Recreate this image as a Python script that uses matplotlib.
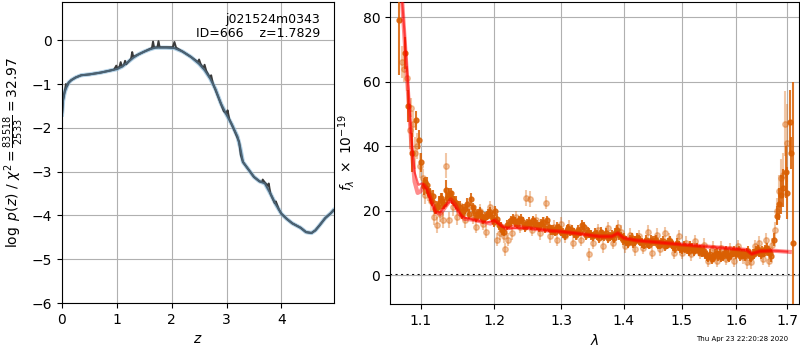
import matplotlib
matplotlib.use('Agg')
import matplotlib.pyplot as plt
from matplotlib.ticker import FixedLocator, FixedFormatter, NullLocator

# redshift posterior (dark line includes the narrow spikes)
z_dark = [0.00, 0.02, 0.04, 0.06, 0.07, 0.09, 0.12, 0.17, 0.25, 0.35, 0.50, 0.70, 0.85, 0.95,
          0.99, 1.01, 1.05, 1.07, 1.09, 1.13, 1.15, 1.17, 1.22, 1.26, 1.28, 1.30, 1.40, 1.50,
          1.60, 1.64, 1.66, 1.68, 1.74, 1.76, 1.78, 1.90, 2.02, 2.05, 2.08, 2.20, 2.35, 2.48,
          2.50, 2.53, 2.58, 2.60, 2.63, 2.70, 2.72, 2.75, 2.85, 2.95, 3.00, 3.02, 3.05, 3.15,
          3.23, 3.26, 3.30, 3.40, 3.50, 3.60, 3.65, 3.66, 3.70, 3.75, 3.77, 3.80, 3.88, 3.90,
          3.95, 4.00, 4.10, 4.20, 4.35, 4.45, 4.55, 4.62, 4.70, 4.80, 4.90, 4.95]
lnp_dark = [-1.70, -1.35, -1.22, -1.10, -1.00, -1.05, -0.97, -0.91, -0.85, -0.80, -0.78, -0.74,
            -0.70, -0.67, -0.58, -0.65, -0.60, -0.50, -0.60, -0.56, -0.47, -0.55, -0.48, -0.42,
            -0.27, -0.38, -0.32, -0.26, -0.20, -0.18, -0.03, -0.17, -0.16, -0.02, -0.16, -0.16,
            -0.16, -0.04, -0.17, -0.26, -0.38, -0.50, -0.44, -0.55, -0.64, -0.56, -0.70, -0.86,
            -0.80, -0.98, -1.30, -1.62, -1.68, -1.60, -1.80, -2.08, -2.32, -2.62, -2.78, -2.95,
            -3.12, -3.22, -3.24, -3.18, -3.25, -3.32, -3.27, -3.50, -3.72, -3.68, -3.85, -3.96,
            -4.08, -4.18, -4.28, -4.38, -4.40, -4.34, -4.22, -4.06, -3.95, -3.88]
z_smooth = [0.00, 0.02, 0.05, 0.09, 0.12, 0.17, 0.25, 0.35, 0.50, 0.70, 0.85, 1.00, 1.10, 1.20,
            1.30, 1.40, 1.50, 1.60, 1.70, 1.80, 1.90, 2.05, 2.20, 2.35, 2.50, 2.60, 2.70, 2.80,
            2.90, 3.00, 3.10, 3.20, 3.25, 3.30, 3.40, 3.50, 3.60, 3.70, 3.80, 3.90, 4.00, 4.10,
            4.20, 4.35, 4.45, 4.55, 4.62, 4.70, 4.80, 4.90, 4.95]
lnp_smooth = [-1.70, -1.38, -1.18, -1.05, -0.97, -0.91, -0.85, -0.80, -0.78, -0.74, -0.70, -0.66,
              -0.60, -0.50, -0.40, -0.32, -0.26, -0.21, -0.17, -0.17, -0.17, -0.18, -0.26, -0.38,
              -0.54, -0.68, -0.87, -1.12, -1.45, -1.70, -1.93, -2.20, -2.45, -2.78, -2.95, -3.12,
              -3.22, -3.27, -3.50, -3.75, -3.96, -4.08, -4.18, -4.28, -4.38, -4.40, -4.34, -4.22,
              -4.06, -3.95, -3.88]

# spectrum, bold points
wave_a = [1.072, 1.080, 1.0835, 1.0885, 1.0945, 1.0975, 1.1005, 1.104, 1.108, 1.112, 1.116, 1.120,
          1.124, 1.128, 1.133, 1.137, 1.142, 1.147, 1.152, 1.157, 1.162, 1.167, 1.172, 1.177,
          1.182, 1.187, 1.192, 1.197, 1.202, 1.207, 1.212, 1.218, 1.224, 1.230, 1.236, 1.242,
          1.248, 1.254, 1.260, 1.266, 1.272, 1.278, 1.284, 1.290, 1.296, 1.302, 1.308, 1.314,
          1.320, 1.326, 1.332, 1.338, 1.344, 1.350, 1.356, 1.362, 1.368, 1.374, 1.380, 1.386,
          1.392, 1.398, 1.404, 1.410, 1.416, 1.422, 1.428, 1.434, 1.440, 1.446, 1.452, 1.458,
          1.464, 1.470, 1.476, 1.482, 1.488, 1.494, 1.500, 1.506, 1.512, 1.518, 1.524, 1.530,
          1.536, 1.542, 1.548, 1.554, 1.560, 1.566, 1.572, 1.578, 1.584, 1.590, 1.596, 1.602,
          1.608, 1.614, 1.620, 1.626, 1.632, 1.638, 1.644, 1.650, 1.656, 1.662, 1.668, 1.674,
          1.679, 1.684, 1.688, 1.692, 1.697, 1.700, 1.706, 1.708, 1.711]
flux_a = [79, 69, 52.5, 38, 48, 42, 35, 27.5, 28, 25, 24.5, 21, 22.5, 23, 26.5, 25, 24, 22.5, 21,
          20, 22, 23.5, 20, 19, 18.5, 18, 19, 18, 20, 15.5, 14, 15.5, 17, 16.5, 17, 16.5, 16,
          15.5, 16, 15, 16.5, 17, 14, 13.5, 14.5, 13, 14, 13.5, 13, 14, 15.5, 12.5, 13, 12, 12.5,
          13.5, 12, 11.5, 12.5, 13, 12.5, 11, 10.5, 11, 10, 11.5, 10.5, 9.5, 10, 11, 10.5, 9.5,
          10, 9, 10, 9.5, 8.5, 9, 8, 8.5, 7.5, 8.5, 8, 7.5, 7, 6.5, 5.5, 5, 6.5, 6, 5.5, 7, 6,
          6.5, 7.5, 7, 6, 6.5, 7, 6, 6.5, 7.5, 7, 7.5, 8, 7.5, 6, 11, 18.5, 22, 25, 27, 32, 25.5,
          47.5, 38, 10]
err_a = [17, 5, 5, 6, 3, 3, 3, 2.5, 2.5, 2, 2, 2, 2, 2.5, 3, 2, 2, 2, 2, 2, 2, 2, 1.5, 1.5,
         1.5, 1.5, 1.5, 1.5, 1.5, 1.5, 1.5, 1.5, 1.5, 1.5, 1.5, 1.5, 1.5, 1.5, 1.5, 1.5, 1.5,
         1.5, 1.5, 1.5, 1.5, 1.5, 1.5, 1.5, 1.5, 1.5, 1.5, 1.5, 1.5, 1.5, 1.5, 1.5, 1.5, 1.5,
         1.5, 1.5, 1.5, 1.5, 1.5, 1.5, 1.5, 1.5, 1.5, 1.5, 1.5, 1.5, 1.5, 1.5, 1.5, 1.5, 1.5,
         1.5, 1.5, 1.5, 1.5, 1.5, 1.5, 1.5, 1.5, 1.5, 1.5, 1.5, 1.5, 1.5, 1.5, 1.5, 1.5, 1.5,
         1.5, 1.5, 1.5, 1.5, 1.5, 1.5, 1.5, 1.5, 1.5, 1.5, 1.5, 1.5, 1.5, 1.5, 2, 2, 3, 5, 6,
         6, 8, 8, 10, 5, 50]

# spectrum, more bold points filling the continuum
wave_c = [1.105, 1.110, 1.115, 1.119, 1.123, 1.127, 1.131, 1.135, 1.140, 1.145,
          1.150, 1.155, 1.160, 1.165, 1.170, 1.175, 1.180, 1.185, 1.190, 1.195,
          1.200, 1.205, 1.210, 1.215, 1.221, 1.227, 1.233, 1.239, 1.245, 1.251,
          1.257, 1.263, 1.269, 1.275, 1.281, 1.287, 1.293, 1.299, 1.305, 1.311,
          1.317, 1.323, 1.329, 1.335, 1.341, 1.347, 1.353, 1.359, 1.365, 1.371,
          1.377, 1.383, 1.389, 1.395, 1.401, 1.407, 1.413, 1.419, 1.425, 1.431,
          1.437, 1.443, 1.449, 1.455, 1.461, 1.467, 1.473, 1.479, 1.485, 1.491,
          1.497, 1.503, 1.509, 1.515, 1.521, 1.527, 1.533, 1.539, 1.545, 1.551,
          1.557, 1.563, 1.569, 1.575, 1.581, 1.587, 1.593, 1.599, 1.605, 1.611,
          1.617, 1.623, 1.629, 1.635, 1.641, 1.647, 1.653, 1.659, 1.665]
flux_c = [29, 26, 23, 20.5, 21, 24, 22, 24, 25.5, 23,
          21.5, 19, 20.5, 19, 21, 18, 19.5, 17.5, 18.5, 19.5,
          16.5, 17.5, 15, 13.5, 16, 17.5, 16, 17.5, 15, 16.5,
          17, 15.5, 16, 14.5, 15, 14, 15, 13.5, 12.5, 14.5,
          14, 12.5, 13.5, 15, 13.5, 12.5, 13, 11.5, 12.5, 13,
          12, 11.5, 14, 12, 11.5, 10, 11.5, 10.5, 11, 10,
          11, 9.5, 10.5, 11, 9.5, 10.5, 9.5, 10.5, 9, 10,
          8.5, 9, 8, 9, 7.5, 8.5, 8, 7.5, 6, 6.5,
          5.5, 7, 6.5, 6, 7.5, 5.5, 7, 6.5, 7.5, 6.5,
          6, 7.5, 5.5, 6.5, 8, 6.5, 7, 8.5, 7]

# spectrum, faint points
wave_b = [1.076, 1.078, 1.082, 1.086, 1.088, 1.090, 1.092, 1.095, 1.099, 1.103, 1.106, 1.110,
          1.113, 1.118, 1.121, 1.126, 1.130, 1.134, 1.138, 1.143, 1.149, 1.155, 1.160, 1.165,
          1.170, 1.175, 1.180, 1.185, 1.188, 1.195, 1.200, 1.205, 1.209, 1.214, 1.216, 1.220,
          1.226, 1.232, 1.238, 1.246, 1.252, 1.256, 1.262, 1.268, 1.274, 1.277, 1.282, 1.288,
          1.294, 1.300, 1.306, 1.312, 1.318, 1.324, 1.330, 1.336, 1.344, 1.350, 1.358, 1.366,
          1.374, 1.382, 1.390, 1.396, 1.402, 1.410, 1.418, 1.426, 1.432, 1.440, 1.448, 1.456,
          1.462, 1.470, 1.478, 1.486, 1.494, 1.500, 1.508, 1.516, 1.524, 1.532, 1.540, 1.548,
          1.556, 1.564, 1.572, 1.580, 1.588, 1.596, 1.604, 1.612, 1.620, 1.628, 1.636, 1.644,
          1.652, 1.658, 1.664, 1.670, 1.676, 1.680, 1.684, 1.688, 1.692, 1.696, 1.699]
flux_b = [66, 64, 61, 45, 52, 47, 38, 40, 34, 30, 25, 26, 23, 18, 15.5, 19, 17, 34, 17, 21, 18,
          20, 17, 21, 18, 15, 20, 16, 13.5, 21, 18, 11, 13, 12, 8, 11, 13, 18, 15, 24, 23.5, 14,
          17, 13, 16, 22.5, 12, 15, 11, 16, 12, 15, 10, 13, 11, 14, 6.5, 10, 14, 9, 14.5, 10, 15,
          13.5, 9, 12.5, 8, 12, 8.5, 13.5, 7, 12.5, 8, 13, 11, 7, 12, 7, 10, 6.5, 10.5, 7, 9.5,
          4.5, 8.5, 4.5, 8.5, 5, 8, 4.5, 9, 5.5, 4, 4, 9, 10, 5, 11, 4.5, 9.5, 14, 20, 26, 30,
          31, 47, 41]
err_b = [5, 4, 4, 6, 3, 4, 5, 4, 4, 3, 3, 3, 3, 2.5, 2.5, 2.5, 2.5, 4, 2.5, 2.5, 2.5, 2.5, 2.5,
         2, 2, 2, 2, 2, 2, 2, 2, 2, 2, 2, 2, 2, 2, 2, 2, 2.5, 2.5, 2, 2, 2, 2, 2, 2, 2, 2, 2, 2,
         2, 2, 2, 2, 2, 2, 2, 2, 2, 2, 2, 2, 2, 2, 2, 2, 2, 2, 2, 2, 2, 2, 2, 2, 2, 2, 2, 2, 2,
         2, 2, 2, 2, 2, 2, 2, 2, 2, 2, 2, 2, 2, 2, 2, 2, 2, 2, 2, 2, 2.5, 4, 5, 6, 7, 10, 12]

# best-fit models
model_wave = [1.072, 1.076, 1.080, 1.084, 1.088, 1.092, 1.096, 1.100, 1.104, 1.108, 1.114, 1.120,
              1.126, 1.132, 1.140, 1.146, 1.152, 1.158, 1.170, 1.185, 1.195, 1.202, 1.210, 1.218,
              1.230, 1.250, 1.280, 1.300, 1.330, 1.360, 1.380, 1.390, 1.400, 1.420, 1.450, 1.500,
              1.550, 1.600, 1.620, 1.630, 1.645, 1.670, 1.705]
model_flux = [100, 85, 70, 55, 40, 29, 25.5, 26, 28, 27, 23, 19.5, 19, 21, 23.5, 22, 19, 17.5,
              17.2, 16.5, 16, 17, 15.5, 14.5, 15, 14.6, 13.8, 13.5, 12.8, 12, 12, 13, 11.5, 10.8,
              10.3, 9.5, 8.8, 8.1, 7.8, 6.6, 7.4, 7.6, 7.2]
model2_wave = [1.076, 1.080, 1.084, 1.088, 1.092, 1.097, 1.102, 1.108, 1.114, 1.120, 1.126, 1.132,
               1.140, 1.148, 1.156, 1.170, 1.190, 1.200, 1.212, 1.222, 1.250, 1.280, 1.300, 1.330,
               1.360, 1.380, 1.390, 1.400, 1.420, 1.450, 1.500, 1.550, 1.600, 1.620, 1.630, 1.645,
               1.670, 1.700]
model2_flux = [85, 72, 58, 42, 32, 28, 28.5, 26.5, 22.5, 19.5, 19.5, 21.5, 23, 20.5, 18, 17.2,
               16.3, 17, 15, 14.5, 14.6, 13.8, 13.5, 12.8, 12, 12, 13, 11.5, 10.8, 10.3, 9.5,
               8.8, 8.1, 7.8, 6.6, 7.4, 7.6, 7.3]

lam_ticks = [1.1, 1.2, 1.3, 1.4, 1.5, 1.6, 1.7]
orange = '#d95f02'

fig = plt.figure(figsize=(8, 3.5), dpi=100)
ax1 = fig.add_axes([0.0775, 0.134, 0.34, 0.86])
ax2 = fig.add_axes([0.4875, 0.131, 0.5112, 0.863])

ax1.plot(z_smooth, lnp_smooth, color='#8fbcdc', lw=3, alpha=0.7)
ax1.plot(z_dark, lnp_dark, color='#3a3a3a', lw=1.4)
ax1.plot(z_smooth, lnp_smooth, color='#4a6274', lw=1.4)
ax1.set_xlim(0, 4.96)
ax1.set_ylim(-6, 0.87)
ax1.set_xticks([0, 1, 2, 3, 4])
ax1.set_yticks([-6, -5, -4, -3, -2, -1, 0])
ax1.grid(True, color='#b0b0b0')
ax1.set_xlabel(r'$z$')
ax1.set_ylabel(r'$\log\ p(z)$ / $\chi^2=\frac{83518}{2533}=32.97$')
ax1.text(0.95, 0.965, 'j021524m0343\nID=666    z=1.7829', transform=ax1.transAxes,
         ha='right', va='top', fontsize=9, linespacing=1.1)

ax2.errorbar(wave_b, flux_b, yerr=err_b, fmt='o', color=orange, alpha=0.35,
             markersize=4, elinewidth=1.5, capsize=0, zorder=2)
ax2.errorbar(wave_c, flux_c, yerr=1.5, fmt='o', color=orange, alpha=0.85,
             markersize=3.5, elinewidth=1.5, capsize=0, zorder=3)
ax2.errorbar(wave_a, flux_a, yerr=err_a, fmt='o', color=orange, alpha=0.85,
             markersize=3.5, elinewidth=1.5, capsize=0, zorder=3)
ax2.plot(model_wave, model_flux, color='red', lw=3, alpha=0.45, zorder=4)
ax2.plot(model2_wave, model2_flux, color='red', lw=1.5, alpha=0.6, zorder=5)
ax2.axhline(0, color='k', ls=':', lw=1.5, zorder=1)
ax2.set_xscale('log')
ax2.set_xlim(1.0606, 1.7237)
ax2.set_ylim(-9, 84.7)
ax2.xaxis.set_major_locator(FixedLocator(lam_ticks))
ax2.xaxis.set_major_formatter(FixedFormatter([str(t) for t in lam_ticks]))
ax2.xaxis.set_minor_locator(NullLocator())
ax2.set_yticks([0, 20, 40, 60, 80])
ax2.grid(True, color='#b0b0b0')
ax2.set_xlabel(r'$\lambda$')
ax2.set_ylabel(r'$f_\lambda\ \times\ 10^{-19}$')

fig.text(0.928, 0.031, 'Thu Apr 23 22:20:28 2020', ha='center', va='center', fontsize=5)

plt.savefig('out.png', dpi=100)
